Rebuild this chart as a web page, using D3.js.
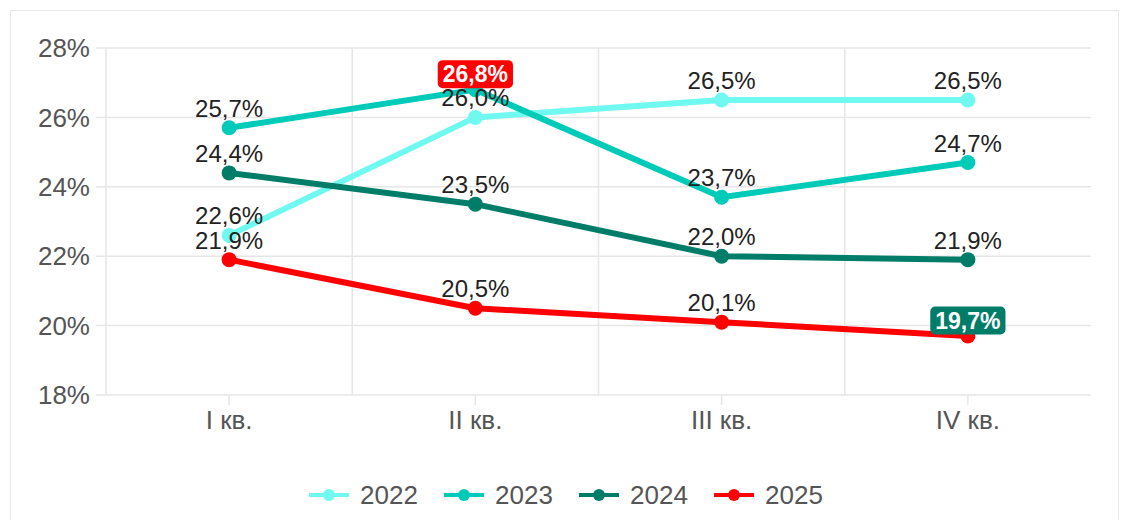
<!DOCTYPE html>
<html>
<head>
<meta charset="utf-8">
<script src="https://cdn.jsdelivr.net/npm/d3@7"></script>
<style>
  body { margin: 0; background: #fff; }
  svg { font-family: "Liberation Sans", Arial, sans-serif; }
</style>
</head>
<body>
<div id="chart"></div>
<script>
var quarters = ["I кв.", "II кв.", "III кв.", "IV кв."];
var years = ["2022", "2023", "2024", "2025"];
var colors = ["#6ff9f1", "#00cbb9", "#007d69", "#ff0000"];

var v2022 = [22.6, 26.0, 26.5, 26.5];
var v2023 = [25.7, 26.8, 23.7, 24.7];
var v2024 = [24.4, 23.5, 22.0, 21.9];
var v2025 = [21.9, 20.5, 20.1, 19.7];

var yTicks = [18, 20, 22, 24, 26, 28];

var width = 1122;
var height = 520;
var plotLeft = 106, plotRight = 1091, plotTop = 48, plotBottom = 395;

var series = years.map(function (y, i) {
    return { name: y, color: colors[i], values: [v2022, v2023, v2024, v2025][i] };
});

// max gets red badge, min gets dark green badge
var all = [];
series.forEach(function (s, si) {
    s.values.forEach(function (v, qi) { all.push({ s: si, q: qi, v: v }); });
});
var maxP = all.reduce(function (a, b) { return b.v > a.v ? b : a; });
var minP = all.reduce(function (a, b) { return b.v < a.v ? b : a; });

var svg = d3.select("#chart")
    .append("svg")
        .attr("width", width)
        .attr("height", height);

svg.append("rect")
    .attr("x", 10.5).attr("y", 10.5)
    .attr("width", 1108).attr("height", 530)
    .attr("fill", "#fff")
    .attr("stroke", "#e8e8e8");

var x = d3.scaleBand()
    .domain(quarters)
    .range([plotLeft, plotRight]);

var y = d3.scaleLinear()
    .domain([18, 28])
    .range([plotBottom, plotTop]);

function cx(i) { return x(quarters[i]) + x.bandwidth() / 2; }

// grid
var grid = svg.append("g").attr("stroke", "#e6e6e6").attr("stroke-width", 1.5);
yTicks.forEach(function (t) {
    grid.append("line")
        .attr("x1", plotLeft - 10).attr("x2", plotRight)
        .attr("y1", y(t)).attr("y2", y(t));
});
quarters.forEach(function (q, i) {
    grid.append("line")
        .attr("x1", x(q)).attr("x2", x(q))
        .attr("y1", plotTop).attr("y2", plotBottom);
    grid.append("line")
        .attr("x1", cx(i)).attr("x2", cx(i))
        .attr("y1", plotBottom).attr("y2", plotBottom + 10);
});

// y labels
svg.append("g")
    .selectAll("text")
    .data(yTicks)
    .enter().append("text")
        .attr("x", plotLeft - 16)
        .attr("y", function (d) { return y(d); })
        .attr("dy", "0.35em")
        .attr("text-anchor", "end")
        .attr("font-size", 26)
        .attr("fill", "#555")
        .text(function (d) { return d + "%"; });

// x labels
svg.append("g")
    .selectAll("text")
    .data(quarters)
    .enter().append("text")
        .attr("x", function (d, i) { return cx(i); })
        .attr("y", plotBottom + 34)
        .attr("text-anchor", "middle")
        .attr("font-size", 26)
        .attr("fill", "#555")
        .text(function (d) { return d; });

var line = d3.line()
    .x(function (d, i) { return cx(i); })
    .y(function (d) { return y(d); });

series.forEach(function (s) {
    svg.append("path")
        .datum(s.values)
        .attr("d", line)
        .attr("fill", "none")
        .attr("stroke", s.color)
        .attr("stroke-width", 6)
        .attr("stroke-linejoin", "round");
    svg.append("g")
        .selectAll("circle")
        .data(s.values)
        .enter().append("circle")
            .attr("cx", function (d, i) { return cx(i); })
            .attr("cy", function (d) { return y(d); })
            .attr("r", 7.5)
            .attr("fill", s.color);
});

function fmt(v) { return v.toFixed(1).replace(".", ",") + "%"; }

// data labels
series.forEach(function (s, si) {
    s.values.forEach(function (v, qi) {
        var isMax = (si === maxP.s && qi === maxP.q);
        var isMin = (si === minP.s && qi === minP.q);
        if (isMax || isMin) return;
        svg.append("text")
            .attr("x", cx(qi))
            .attr("y", y(v) - 11)
            .attr("text-anchor", "middle")
            .attr("font-size", 24)
            .attr("fill", "#222")
            .text(fmt(v));
    });
});

[[maxP, "#ff0000"], [minP, colors[2]]].forEach(function (h) {
    var p = h[0];
    var g = svg.append("g");
    var bx = cx(p.q), by = y(p.v) - 1.5;
    var rect = g.append("rect").attr("fill", h[1]).attr("rx", 5);
    var t = g.append("text")
        .attr("x", bx)
        .attr("y", by - 6)
        .attr("text-anchor", "middle")
        .attr("font-size", 23)
        .attr("font-weight", "bold")
        .attr("fill", "#fff")
        .text(fmt(p.v));
    var w = t.node().getBBox().width + 10;
    rect.attr("x", bx - w / 2).attr("y", by - 28)
        .attr("width", w).attr("height", 28);
});

// legend
var legend = svg.append("g");
var itemW = 135, legendX = 309, legendY = 495;
series.forEach(function (s, i) {
    var gx = legendX + i * itemW;
    legend.append("line")
        .attr("x1", gx).attr("x2", gx + 40)
        .attr("y1", legendY).attr("y2", legendY)
        .attr("stroke", s.color)
        .attr("stroke-width", 4);
    legend.append("circle")
        .attr("cx", gx + 20).attr("cy", legendY)
        .attr("r", 6)
        .attr("fill", s.color);
    legend.append("text")
        .attr("x", gx + 51)
        .attr("y", legendY)
        .attr("dy", "0.36em")
        .attr("font-size", 26)
        .attr("fill", "#555")
        .text(s.name);
});
</script>
</body>
</html>
